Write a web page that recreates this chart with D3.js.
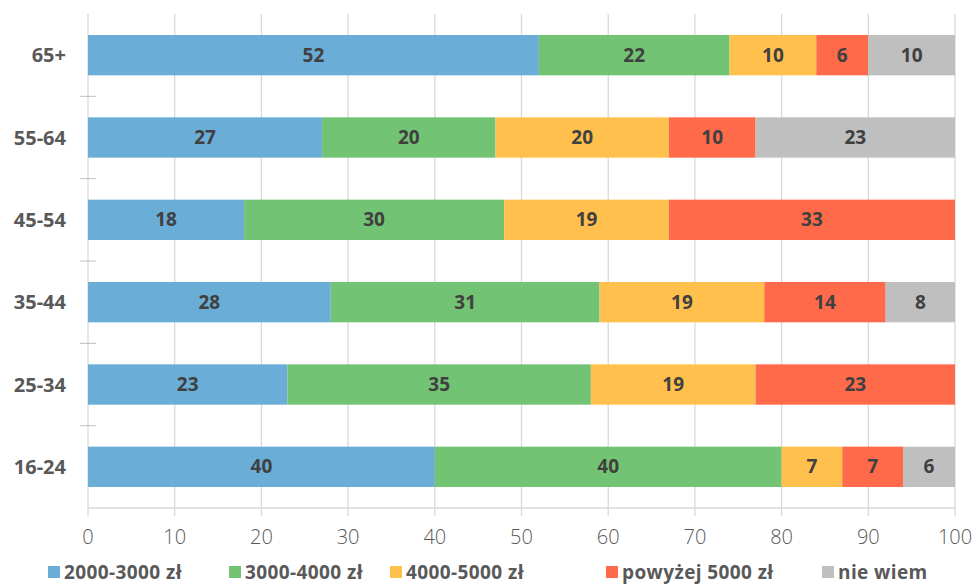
<!DOCTYPE html>
<html lang="pl">
<head>
<meta charset="UTF-8">
<title>Wynagrodzenie wg wieku</title>
<style>
    body { margin: 0; background: #fff; }
    svg text { font-family: "Open Sans", "Noto Sans", sans-serif; }
</style>
</head>
<body>
<div id="chart"></div>
<script src="https://d3js.org/d3.v7.min.js"></script>
<script>
// age groups, top to bottom
const groups = ["65+", "55-64", "45-54", "35-44", "25-34", "16-24"];
const seriesNames = ["2000-3000 zł", "3000-4000 zł", "4000-5000 zł", "powyżej 5000 zł", "nie wiem"];
const s2000_3000 = [52, 27, 18, 28, 23, 40];
const s3000_4000 = [22, 20, 30, 31, 35, 40];
const s4000_5000 = [10, 20, 19, 19, 19, 7];
const sPowyzej5000 = [6, 10, 33, 14, 23, 7];
const sNieWiem = [10, 23, 0, 8, 0, 6];
const xTicks = [0, 10, 20, 30, 40, 50, 60, 70, 80, 90, 100];

const colors = ["#6aadd6", "#73c374", "#ffc04d", "#ff6b4a", "#bfbfbf"];
const allSeries = [s2000_3000, s3000_4000, s4000_5000, sPowyzej5000, sNieWiem];

const rows = groups.map((g, i) => {
    const r = { group: g };
    seriesNames.forEach((s, j) => r[s] = allSeries[j][i]);
    return r;
});
const stacked = d3.stack().keys(seriesNames)(rows);

const W = 976, H = 585;
const margin = { top: 14, right: 21, bottom: 77, left: 88 };
const width = W - margin.left - margin.right,
      height = H - margin.top - margin.bottom;

const svg = d3.select("#chart").append("svg")
    .attr("width", W).attr("height", H);
const g = svg.append("g")
    .attr("transform", `translate(${margin.left},${margin.top})`);

const x = d3.scaleLinear().domain([0, 100]).range([0, width]);
const y = d3.scaleBand().domain(groups).range([0, height]).paddingInner(0.51).paddingOuter(0.255);

// gridlines
g.selectAll(".grid").data(xTicks).enter().append("line")
    .attr("x1", d => x(d)).attr("x2", d => x(d))
    .attr("y1", 0).attr("y2", height + 8)
    .attr("stroke", "#d9d9d9").attr("stroke-width", 1.3);

// bottom axis line
g.append("line")
    .attr("x1", 0).attr("x2", width)
    .attr("y1", height).attr("y2", height)
    .attr("stroke", "#d9d9d9").attr("stroke-width", 1.3);

// category boundary ticks
const step = y.step();
g.selectAll(".ytick").data(groups.slice(1)).enter().append("line")
    .attr("x1", -8).attr("x2", 8)
    .attr("y1", d => y(d) - (step - y.bandwidth()) / 2)
    .attr("y2", d => y(d) - (step - y.bandwidth()) / 2)
    .attr("stroke", "#bfbfbf").attr("stroke-width", 1);

// bars
const layer = g.selectAll(".layer").data(stacked).enter().append("g")
    .attr("fill", (d, i) => colors[i]);
layer.selectAll("rect").data(d => d.filter(p => p[1] > p[0])).enter().append("rect")
    .attr("x", d => x(d[0]))
    .attr("y", d => y(d.data.group))
    .attr("width", d => x(d[1]) - x(d[0]))
    .attr("height", y.bandwidth());

layer.selectAll("text").data(d => d.filter(p => p[1] > p[0])).enter().append("text")
    .attr("x", d => (x(d[0]) + x(d[1])) / 2)
    .attr("y", d => y(d.data.group) + y.bandwidth() / 2)
    .attr("dy", "0.35em")
    .attr("text-anchor", "middle")
    .attr("font-size", 19).attr("font-weight", "bold")
    .attr("fill", "#404040")
    .text(d => d[1] - d[0]);

// category labels
g.selectAll(".cat").data(groups).enter().append("text")
    .attr("x", -22)
    .attr("y", d => y(d) + y.bandwidth() / 2)
    .attr("dy", "0.35em")
    .attr("text-anchor", "end")
    .attr("font-size", 20).attr("font-weight", "bold")
    .attr("fill", "#595959")
    .text(d => d);

// x tick labels
g.selectAll(".xlab").data(xTicks).enter().append("text")
    .attr("x", d => x(d))
    .attr("y", height + 36)
    .attr("text-anchor", "middle")
    .attr("font-size", 20).attr("font-weight", 300)
    .attr("fill", "#595959")
    .text(d => d);

// legend
const legendX = [48, 229, 390, 606, 822];
const legend = svg.selectAll(".legend").data(seriesNames).enter().append("g")
    .attr("transform", (d, i) => `translate(${legendX[i]},572)`);
legend.append("rect")
    .attr("x", 0).attr("y", -6).attr("width", 12).attr("height", 12)
    .attr("fill", (d, i) => colors[i]);
legend.append("text")
    .attr("x", 16).attr("dy", "0.35em")
    .attr("font-size", 19).attr("font-weight", "bold")
    .attr("letter-spacing", 0.4)
    .attr("fill", "#595959")
    .text(d => d);
</script>
</body>
</html>
